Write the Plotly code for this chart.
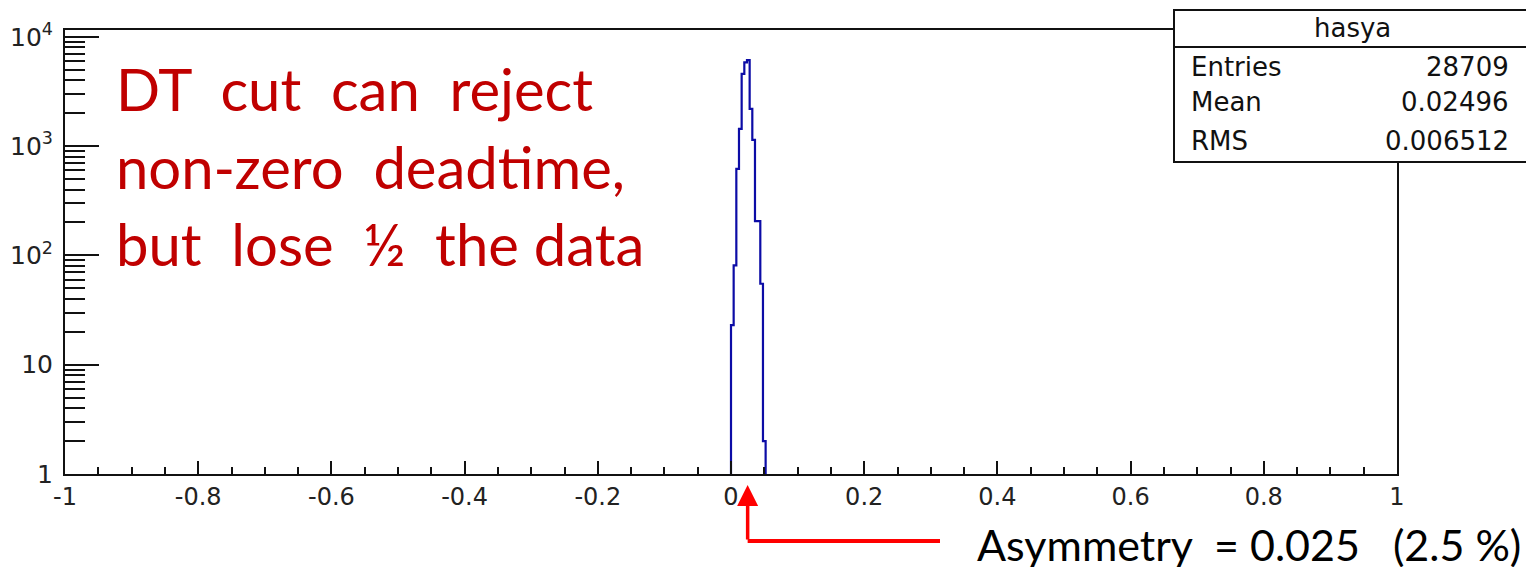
import plotly.graph_objects as go

# ---- data ----
bin_low = [0.000, 0.004, 0.008, 0.012, 0.016, 0.020, 0.024, 0.028,
           0.032, 0.036, 0.040, 0.044, 0.048]
bin_width = 0.004
counts = [23, 81, 620, 1435, 4570, 5820, 6120, 2187, 1140, 206, 206, 55, 2]

x_tick_vals = [-1, -0.8, -0.6, -0.4, -0.2, 0, 0.2, 0.4, 0.6, 0.8, 1]
x_tick_text = ["-1", "-0.8", "-0.6", "-0.4", "-0.2", "0", "0.2", "0.4", "0.6", "0.8", "1"]

stats_title = "hasya"
stats_labels = ["Entries", "Mean", "RMS"]
stats_values = ["28709", "0.02496", "0.006512"]

asym_value = 0.025
note_lines = ["DT\u00a0 cut\u00a0 can\u00a0 reject",
              "non-zero\u00a0 deadtime,",
              "but\u00a0 lose\u00a0 \u00bd\u00a0 the data"]
asym_text = "Asymmetry\u00a0 = 0.025 \u00a0 (2.5 %)"

# ---- step outline (ROOT-like histogram) ----
base = 1
xs = [bin_low[0]] + bin_low + [bin_low[-1] + bin_width]
ys = [base] + counts + [base]

# page has an 8px body margin -> figure is 8px smaller and offset
W, H = 1526, 559
L, T = 57, 22
pw, ph = 1332, 444
R, B = W - L - pw, H - T - ph


def px2paper_x(px):          # px in reference-image coordinates
    return (px - 65) / pw


def px2paper_y(py):
    return (474 - py) / ph


fig = go.Figure()
fig.add_trace(go.Scatter(
    x=xs, y=ys, mode="lines", line=dict(color="#0c0ca6", width=2.2, shape="hv"),
    hoverinfo="skip", showlegend=False))

FONT = "DejaVu Sans, Liberation Sans, sans-serif"

fig.update_layout(
    width=W, height=H,
    margin=dict(l=L, r=R, t=T, b=B, pad=0, autoexpand=False),
    paper_bgcolor="white", plot_bgcolor="white",
    showlegend=False,
    xaxis=dict(range=[-1, 1], tickmode="array", tickvals=x_tick_vals, ticktext=x_tick_text,
               ticks="inside", ticklen=13, automargin=False,
               tickwidth=1.5, tickcolor="#111", showline=True, linecolor="#111",
               linewidth=2, mirror=True, showgrid=False, zeroline=False,
               tickfont=dict(family=FONT, size=24, color="#222"),
               minor=dict(ticks="inside", ticklen=7, dtick=0.05, tick0=-1, tickwidth=1.5,
                          tickcolor="#111", showgrid=False)),
    yaxis=dict(type="log", range=[0, 4.062], dtick=1, exponentformat="power",
               ticks="inside", ticklen=34, tickwidth=2, tickcolor="#111",
               showline=True, linecolor="#111", linewidth=2, mirror=True,
               showgrid=False, zeroline=False, automargin=False,
               ticklabelstandoff=6,
               tickfont=dict(family=FONT, size=20, color="#222"),
               minor=dict(ticks="inside", ticklen=20, dtick="D1", tickwidth=2,
                          tickcolor="#111", showgrid=False)),
)

# stats box
bx0, bx1 = px2paper_x(1174), px2paper_x(1530)
by0, by1 = px2paper_y(162), px2paper_y(10)
fig.add_shape(type="rect", xref="paper", yref="paper", x0=bx0, x1=bx1, y0=by0, y1=by1,
              line=dict(color="#111", width=2), fillcolor="white", layer="above")
fig.add_shape(type="line", xref="paper", yref="paper", x0=bx0, x1=bx1,
              y0=px2paper_y(47), y1=px2paper_y(47), line=dict(color="#111", width=2))
sfont = dict(family=FONT, size=26, color="#111")
fig.add_annotation(x=(bx0 + bx1) / 2, y=px2paper_y(28), xref="paper", yref="paper",
                   text=stats_title, showarrow=False, font=sfont,
                   xanchor="center", yanchor="middle")
row_y = [67, 102, 141]
for lab, val, ry in zip(stats_labels, stats_values, row_y):
    fig.add_annotation(x=px2paper_x(1189), y=px2paper_y(ry), xref="paper", yref="paper",
                       text=lab, showarrow=False, font=sfont, xanchor="left", yanchor="middle")
    fig.add_annotation(x=px2paper_x(1511), y=px2paper_y(ry), xref="paper", yref="paper",
                       text=val, showarrow=False, font=sfont, xanchor="right", yanchor="middle")

# red note text
nfont = dict(family="Lato, Open Sans, sans-serif", size=58, color="#c00000")
line_y = [89, 166, 243]
for t, ly in zip(note_lines, line_y):
    fig.add_annotation(x=px2paper_x(114), y=px2paper_y(ly), xref="paper", yref="paper",
                       text=t, showarrow=False, font=nfont, xanchor="left", yanchor="middle")

# asymmetry arrow
fig.add_annotation(x=asym_value, y=px2paper_y(485), xref="x", yref="paper",
                   text="", showarrow=True, ax=0, ay=56, axref="pixel", ayref="pixel",
                   arrowhead=2, arrowsize=1.2, arrowwidth=3.5, arrowcolor="#ff0000")
fig.add_shape(type="line", xref="paper", yref="paper",
              x0=(asym_value + 1) / 2, x1=px2paper_x(940),
              y0=px2paper_y(541), y1=px2paper_y(541),
              line=dict(color="#ff0000", width=4))
fig.add_annotation(x=px2paper_x(975), y=px2paper_y(544), xref="paper", yref="paper",
                   text=asym_text, showarrow=False,
                   font=dict(family="Lato, Open Sans, sans-serif", size=43, color="#000"),
                   xanchor="left", yanchor="middle")

fig.write_html("out.html")
